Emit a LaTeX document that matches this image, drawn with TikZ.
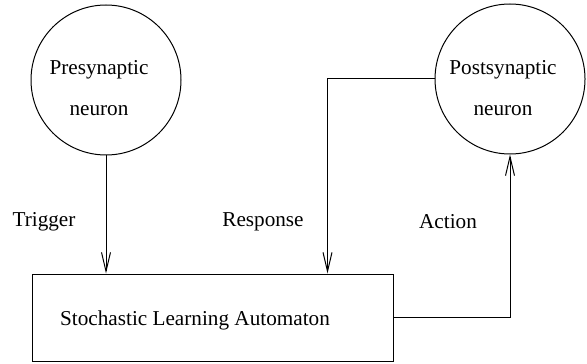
\documentclass[tikz,border=0pt]{standalone}
\usepackage{fontspec}
\setmainfont{Liberation Serif}
\usetikzlibrary{calc,arrows.meta}
\definecolor{ink}{HTML}{000000}
\tikzset{
  base/.style={draw=ink, line width=0.5pt},
  arr/.style={base, -{Straight Barb[length=9.5pt,width=4.5pt]}},
  cell/.style={base, circle, minimum size=75pt, inner sep=0pt},
  unit/.style={base, rectangle, minimum width=180.5pt, minimum height=43.5pt, inner sep=0pt},
  lab/.style={text=ink, font=\fontsize{10.6}{12.7}\selectfont, inner sep=0pt},
}

\begin{document}
\begin{tikzpicture}[x=0.5pt,y=-0.5pt]
  \useasboundingbox (0,0) rectangle (587,363);
  % neurons and automaton
  \node[cell] (pre) at (106,80) {};
  \node[cell] (post) at (510,79) {};
  \node[unit] (sla) at (212.5,317.5) {};
  \node[lab, align=center] (pretxt) at (99,88) {Presynaptic\\[8pt]neuron};
  \node[lab, align=center] (posttxt) at (503,88) {Postsynaptic\\[8pt]neuron};
  \node[lab] (slatxt) at (195,320) {Stochastic Learning Automaton};
  % signal labels
  \node[lab] (trig) at (44,222) {Trigger};
  \node[lab] (resplab) at (263,222) {Response};
  \node[lab] (act) at (448,222) {Action};
  \coordinate (resp) at ($(sla.north west)+(296,0)$);
  \draw[arr] (pre) -- (pre |- sla.north);
  \draw[arr] (post.west) -| (resp);
  \draw[arr] (sla.east) -| (post.south);
\end{tikzpicture}
\end{document}
